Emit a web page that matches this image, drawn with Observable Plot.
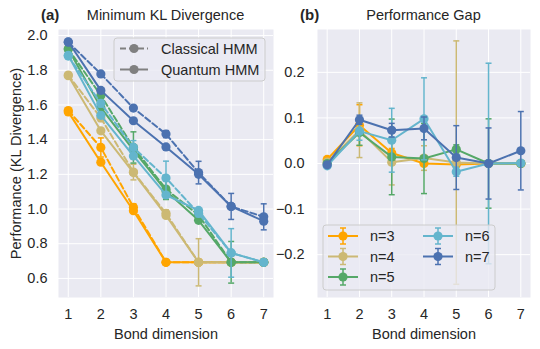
<!DOCTYPE html>
<html><head><meta charset="utf-8">
<script src="https://cdn.jsdelivr.net/npm/d3@7"></script>
<script src="https://cdn.jsdelivr.net/npm/@observablehq/plot@0.6"></script>
<style>
body{margin:0;background:#fff;}
#wrap{position:relative;width:540px;height:349px;font-family:"Liberation Sans",Arial,sans-serif;}
#wrap svg{position:absolute;top:0;}
</style></head><body><div id="wrap"></div>
<script>
// ---------- data ----------
const bondDims = [1, 2, 3, 4, 5, 6, 7];
const nLabels = ["n=3", "n=4", "n=5", "n=6", "n=7"];
const seriesColors = ["#FFA500", "#CCB974", "#55A868", "#64B5CD", "#4C72B0"];

// Panel (a): minimum KL divergence
const classicalN3 = [1.568, 1.355, 1.010, 0.693, 0.693, 0.693, 0.693];
const quantumN3   = [1.560, 1.270, 0.990, 0.693, 0.693, 0.693, 0.693];
const classicalN4 = [1.772, 1.525, 1.213, 0.975, 0.693, 0.693, 0.693];
const quantumN4   = [1.769, 1.451, 1.210, 0.963, 0.693, 0.693, 0.693];
const classicalN5 = [1.923, 1.655, 1.355, 1.115, 0.965, 0.693, 0.693];
const quantumN5   = [1.923, 1.585, 1.340, 1.104, 0.935, 0.693, 0.693];
const classicalN6 = [1.882, 1.609, 1.355, 1.179, 0.975, 0.747, 0.693];
const quantumN6   = [1.886, 1.540, 1.306, 1.081, 0.992, 0.747, 0.693];
const classicalN7 = [1.962, 1.779, 1.582, 1.432, 1.210, 1.015, 0.955];
const quantumN7   = [1.964, 1.684, 1.509, 1.358, 1.200, 1.015, 0.930];
const classicalErrN3 = [0.008, 0.055, 0.020, 0, 0, 0, 0];
const classicalErrN4 = [0.008, 0.020, 0.045, 0.020, 0.136, 0, 0];
const classicalErrN5 = [0.008, 0.020, 0.090, 0.060, 0.020, 0.120, 0];
const classicalErrN6 = [0.008, 0.020, 0.040, 0.097, 0.020, 0.140, 0];
const classicalErrN7 = [0.008, 0.010, 0.010, 0.020, 0.065, 0.075, 0.075];

// Panel (b): performance gap
const gapN3 = [0.009, 0.084, 0.023, 0.000, -0.002, 0.000, 0.000];
const gapN4 = [0.003, 0.073, 0.003, 0.012, 0.002, 0.000, 0.000];
const gapN5 = [0.000, 0.068, 0.0145, 0.011, 0.031, 0.000, 0.000];
const gapN6 = [-0.005, 0.071, 0.051, 0.098, -0.018, 0.000, 0.001];
const gapN7 = [-0.003, 0.096, 0.073, 0.077, 0.013, 0.000, 0.028];
const gapErrN3 = [0.005, 0.045, 0.010, 0.005, 0, 0, 0];
const gapErrN4 = [0.005, 0.060, 0.050, 0.027, 0.267, 0, 0];
const gapErrN5 = [0.005, 0.028, 0.083, 0.077, 0.010, 0.098, 0];
const gapErrN6 = [0.005, 0.020, 0.070, 0.090, 0.010, 0.220, 0];
const gapErrN7 = [0.005, 0.010, 0.015, 0.025, 0.070, 0.078, 0.086];

const leftYTicks = [0.6, 0.8, 1.0, 1.2, 1.4, 1.6, 1.8, 2.0];
const rightYTicks = [-0.2, -0.1, 0.0, 0.1, 0.2];
const modelLabels = ["Classical HMM", "Quantum HMM"];

// ---------- tables ----------
const classicalAll = [classicalN3, classicalN4, classicalN5, classicalN6, classicalN7];
const quantumAll = [quantumN3, quantumN4, quantumN5, quantumN6, quantumN7];
const classicalErrAll = [classicalErrN3, classicalErrN4, classicalErrN5, classicalErrN6, classicalErrN7];
const gapAll = [gapN3, gapN4, gapN5, gapN6, gapN7];
const gapErrAll = [gapErrN3, gapErrN4, gapErrN5, gapErrN6, gapErrN7];

const rows = (vals, errs) => bondDims.map((b, i) => ({x: b, y: vals[i], err: errs ? errs[i] : 0}));

const capSymbol = {draw(ctx) { ctx.moveTo(-3, 0); ctx.lineTo(3, 0); }};

function errorMarks(data, color, sw) {
  const e = data.filter(d => d.err > 0);
  return [
    Plot.ruleX(e, {x: "x", y1: d => d.y - d.err, y2: d => d.y + d.err, stroke: color, strokeWidth: sw}),
    Plot.dot(e, {x: "x", y: d => d.y - d.err, symbol: capSymbol, stroke: color, strokeWidth: sw, fill: "none"}),
    Plot.dot(e, {x: "x", y: d => d.y + d.err, symbol: capSymbol, stroke: color, strokeWidth: sw, fill: "none"})
  ];
}

const FS = 14.5;
const font = {fontFamily: "'Liberation Sans', Arial, sans-serif", fontSize: FS + "px", color: "#262626", background: "transparent", overflow: "visible"};
const BG = "#EAEAF2";

// ---------- left panel ----------
const leftMarks = [
  Plot.frame({fill: BG, stroke: "none"}),
  Plot.gridX(bondDims, {stroke: "white", strokeOpacity: 1, strokeWidth: 1}),
  Plot.gridY(leftYTicks, {stroke: "white", strokeOpacity: 1, strokeWidth: 1}),
  Plot.axisX(bondDims, {tickSize: 0, tickPadding: 11, label: "Bond dimension", labelAnchor: "center", labelArrow: "none", labelOffset: 41, tickFormat: d3.format("d")}),
  Plot.axisY(leftYTicks, {tickSize: 0, tickPadding: 11, label: "Performance (KL Divergence)", labelAnchor: "center", labelArrow: "none", labelOffset: 48, tickFormat: d3.format(".1f")})
];
nLabels.forEach((n, k) => {
  const c = seriesColors[k];
  const cl = rows(classicalAll[k], classicalErrAll[k]);
  const qu = rows(quantumAll[k]);
  leftMarks.push(
    ...errorMarks(cl, c, 1.5),
    Plot.line(cl, {x: "x", y: "y", stroke: c, strokeWidth: 2, strokeDasharray: "6,3"}),
    Plot.dot(cl, {x: "x", y: "y", fill: c, r: 4.6}),
    Plot.line(qu, {x: "x", y: "y", stroke: c, strokeWidth: 2}),
    Plot.dot(qu, {x: "x", y: "y", fill: c, r: 4.6})
  );
});

const left = Plot.plot({
  width: 280, height: 349,
  marginLeft: 58, marginRight: 7, marginTop: 29, marginBottom: 52,
  style: font,
  x: {domain: [0.7, 7.3]},
  y: {domain: [0.49, 2.035]},
  marks: leftMarks
});

// ---------- right panel ----------
const rightMarks = [
  Plot.frame({fill: BG, stroke: "none"}),
  Plot.gridX(bondDims, {stroke: "white", strokeOpacity: 1, strokeWidth: 1}),
  Plot.gridY(rightYTicks, {stroke: "white", strokeOpacity: 1, strokeWidth: 1}),
  Plot.axisX(bondDims, {tickSize: 0, tickPadding: 11, label: "Bond dimension", labelAnchor: "center", labelArrow: "none", labelOffset: 41, tickFormat: d3.format("d")}),
  Plot.axisY(rightYTicks, {tickSize: 0, tickPadding: 13, label: null, tickFormat: d3.format(".1f")})
];
nLabels.forEach((n, k) => {
  const c = seriesColors[k];
  const g = rows(gapAll[k], gapErrAll[k]);
  rightMarks.push(
    ...errorMarks(g, c, 1.5),
    Plot.line(g, {x: "x", y: "y", stroke: c, strokeWidth: 2}),
    Plot.dot(g, {x: "x", y: "y", fill: c, r: 4.6})
  );
});

const right = Plot.plot({
  width: 260, height: 349,
  marginLeft: 37, marginRight: 10, marginTop: 29, marginBottom: 52,
  style: font,
  x: {domain: [0.7, 7.3]},
  y: {domain: [-0.294, 0.294]},
  marks: rightMarks
});

const wrap = document.getElementById("wrap");
left.style.left = "0px";
right.style.left = "280px";
wrap.appendChild(left);
wrap.appendChild(right);

// ---------- titles ----------
function titles(svg, tag, tagX, title, titleX) {
  const s = d3.select(svg);
  s.append("text").attr("x", tagX).attr("y", 20).attr("text-anchor", "start").attr("font-weight", "bold").attr("font-size", 15).attr("fill", "#262626").text(tag);
  s.append("text").attr("x", titleX).attr("y", 20).attr("text-anchor", "middle").attr("font-size", FS).attr("fill", "#262626").text(title);
}
titles(left, "(a)", 41, "Minimum KL Divergence", 165.5);
titles(right, "(b)", 20, "Performance Gap", 143.5);

// ---------- legends ----------
{
  const s = d3.select(left).append("g");
  s.append("rect").attr("x", 114).attr("y", 38).attr("width", 151).attr("height", 43).attr("rx", 3)
    .attr("fill", BG).attr("fill-opacity", 0.8).attr("stroke", "#cccccc");
  modelLabels.forEach((m, i) => {
    const y = 48.5 + i * 21;
    s.append("line").attr("x1", 120).attr("x2", 148).attr("y1", y).attr("y2", y)
      .attr("stroke", "#808080").attr("stroke-width", 2).attr("stroke-dasharray", i === 0 ? "6,3" : null);
    s.append("circle").attr("cx", 134).attr("cy", y).attr("r", 4.6).attr("fill", "#808080");
    s.append("text").attr("x", 161).attr("y", y).attr("dy", "0.35em").attr("text-anchor", "start").attr("font-size", FS).attr("fill", "#262626").text(m);
  });
}
{
  const s = d3.select(right).append("g");
  s.append("rect").attr("x", 43).attr("y", 225).attr("width", 172).attr("height", 65).attr("rx", 3)
    .attr("fill", BG).attr("fill-opacity", 0.8).attr("stroke", "#cccccc");
  nLabels.forEach((n, k) => {
    const col = k < 3 ? 0 : 1, row = k < 3 ? k : k - 3;
    const x0 = 48 + col * 95, y = 236 + row * 20.5, c = seriesColors[k];
    s.append("line").attr("x1", x0).attr("x2", x0 + 30).attr("y1", y).attr("y2", y).attr("stroke", c).attr("stroke-width", 2);
    s.append("line").attr("x1", x0 + 15).attr("x2", x0 + 15).attr("y1", y - 8).attr("y2", y + 8).attr("stroke", c).attr("stroke-width", 1.5);
    [-8, 8].forEach(dy => s.append("line").attr("x1", x0 + 12).attr("x2", x0 + 18).attr("y1", y + dy).attr("y2", y + dy).attr("stroke", c).attr("stroke-width", 1.5));
    s.append("circle").attr("cx", x0 + 15).attr("cy", y).attr("r", 4.6).attr("fill", c);
    s.append("text").attr("x", x0 + 42).attr("y", y).attr("dy", "0.35em").attr("text-anchor", "start").attr("font-size", FS).attr("fill", "#262626").text(n);
  });
}
</script></body></html>
